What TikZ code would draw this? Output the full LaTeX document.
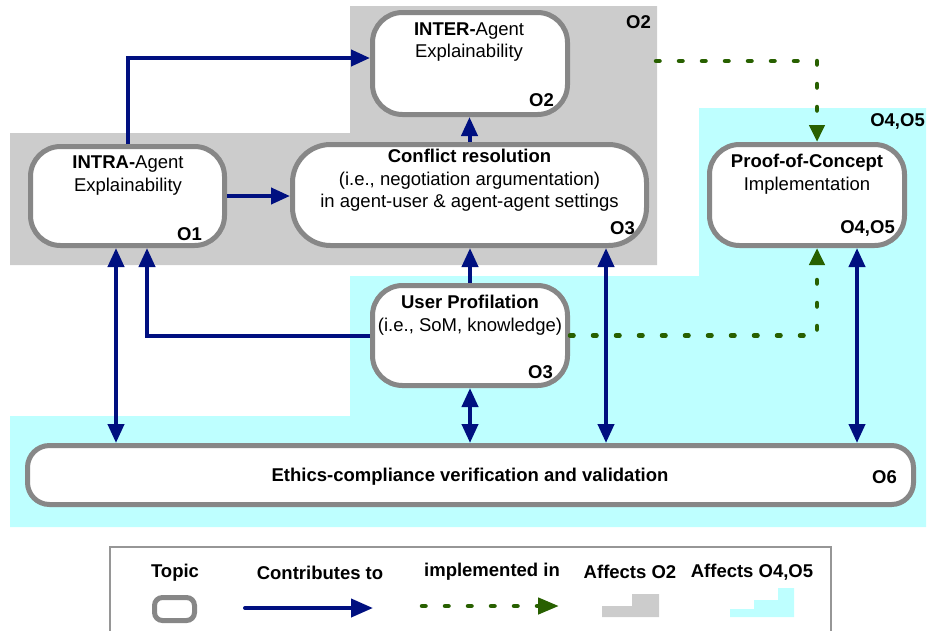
\documentclass[tikz,border=0pt]{standalone}
\usepackage{fontspec}
\setmainfont{Liberation Sans}
\usetikzlibrary{arrows.meta}
\definecolor{navy}{RGB}{0,16,128}
\definecolor{implgreen}{RGB}{40,96,0}
\definecolor{topicgray}{RGB}{135,135,135}
\definecolor{regiongray}{RGB}{204,204,204}
\definecolor{regioncyan}{RGB}{190,255,255}
\definecolor{legendgray}{RGB}{150,150,150}
\tikzset{
  topic/.style={draw=topicgray, line width=5pt, fill=white, inner sep=0pt},
  txt/.style={align=center, inner sep=0pt},
  olab/.style={font=\fontsize{18.5}{22.5}\selectfont\bfseries, inner sep=0pt},
  contrib/.style={draw=navy, line width=4pt, -{Triangle[length=19pt,width=16pt]}},
  contribboth/.style={draw=navy, line width=4pt, {Triangle[length=19pt,width=16pt]}-{Triangle[length=19pt,width=16pt]}},
  impl/.style={draw=implgreen, line width=4.5pt, line cap=round, dash pattern=on 3.5pt off 19.5pt, -{Triangle[length=17pt,width=15pt]}}
}
\begin{document}
\begin{tikzpicture}[x=1pt,y=-1pt,font=\fontsize{18.5}{22.5}\selectfont]
\useasboundingbox (0,0) rectangle (928,630);
% regions
\fill[regiongray] (350,6) -- (657,6) -- (657,265) -- (10,265) -- (10,133) -- (350,133) -- cycle;
\fill[regioncyan] (699,108) -- (926,108) -- (926,527) -- (10,527) -- (10,416) -- (350,416) -- (350,276) -- (699,276) -- cycle;
\node[olab, anchor=east] (rego2) at (651,22) {O2};
\node[olab, anchor=east] (rego45) at (925,121) {O4,O5};

% topics
\node[topic, minimum width=195pt, minimum height=102pt, rounded corners=30pt] (inter) at (470,63.5) {};
\node[topic, minimum width=194pt, minimum height=99pt, rounded corners=30pt] (intra) at (127.5,196) {};
\node[topic, minimum width=354pt, minimum height=101pt, rounded corners=38pt] (conf) at (469.5,195) {};
\node[topic, minimum width=195pt, minimum height=101pt, rounded corners=30pt] (poc) at (807,195) {};
\node[topic, minimum width=195pt, minimum height=100pt, rounded corners=30pt] (user) at (470,335.5) {};
\node[topic, minimum width=886pt, minimum height=59pt, rounded corners=22pt] (eth) at (470.5,475) {};

% texts
\node[txt] (intertxt) at (469,42) {\textbf{INTER-}Agent\\Explainability};
\node[olab, anchor=east] (intero) at (554,100) {O2};
\node[txt] (intratxt) at (128,175.5) {\textbf{INTRA-}Agent\\Explainability};
\node[olab, anchor=east] (intrao) at (202,234) {O1};
\node[txt] (conftxt) at (469.5,180.5) {\textbf{Conflict resolution}\\(i.e., negotiation argumentation)\\in agent-user \& agent-agent settings};
\node[olab, anchor=east] (confo) at (635,228) {O3};
\node[txt] (poctxt) at (807,174) {\textbf{Proof-of-Concept}\\Implementation};
\node[olab, anchor=east] (poco) at (895,228) {O4,O5};
\node[txt] (usertxt) at (470,315) {\textbf{User Profilation}\\(i.e., SoM, knowledge)};
\node[olab, anchor=east] (usero) at (553,372) {O3};
\node[txt, font=\fontsize{18.5}{22.5}\selectfont\bfseries] (ethtxt) at (470,477) {Ethics-compliance verification and validation};
\node[olab, anchor=east] (etho) at (897,477) {O6};

% contributes-to connectors
\draw[contrib] (intra.north) |- ([yshift=5.5pt]inter.west);
\draw[contrib] (intra.east) -- (intra.east -| conf.west);
\draw[contrib] (conf.north) -- (conf.north |- inter.south);
\draw[contrib] (user.north) -- (user.north |- conf.south);
\draw[contrib] (user.west) -| ([xshift=19.5pt]intra.south);
\draw[contribboth] ([xshift=-11.5pt]intra.south) -- ([xshift=-354.5pt]eth.north);
\draw[contribboth] (user.south) -- (user.south |- eth.north);
\draw[contribboth] ([xshift=136.5pt]conf.south) -- ([xshift=135.5pt]eth.north);
\draw[contribboth] ([xshift=50pt]poc.south) -- ([xshift=386.5pt]eth.north);

% implemented-in connectors
\coordinate (g0) at (656,61);
\draw[impl] (g0) -| ([xshift=10pt]poc.north);
\draw[impl] (user.east) -| ([xshift=10pt]poc.south);

% legend
\draw[legendgray, line width=1.2pt] (110,632) -- (110,547) -- (831,547) -- (831,632);
\node[olab] (legtopic) at (175,573) {Topic};
\node[olab] (legcontrib) at (320,573) {Contributes to};
\node[olab] (legimpl) at (492,572) {implemented in};
\node[olab] (lego2) at (630,572) {Affects O2};
\node[olab] (lego45) at (752,572) {Affects O4,O5};
\node[draw=topicgray, line width=5pt, rounded corners=8pt, minimum width=40pt, minimum height=23pt, inner sep=0pt] (legicon) at (174.5,609) {};
\coordinate (lc1) at (245,608);
\coordinate (lc2) at (373,608);
\draw[draw=navy, line width=4pt, line cap=round, -{Triangle[length=22pt,width=18pt]}] (lc1) -- (lc2);
\coordinate (li1) at (422,606);
\coordinate (li2) at (559,606);
\draw[impl, -{Triangle[length=21pt,width=16pt]}] (li1) -- (li2);
\fill[regiongray] (602,617) -- (602,606) -- (632,606) -- (632,594) -- (659,594) -- (659,617) -- cycle;
\fill[regioncyan] (730,617) -- (730,609) -- (754,609) -- (754,600) -- (778,600) -- (778,588) -- (794,588) -- (794,617) -- cycle;
\end{tikzpicture}
\end{document}
